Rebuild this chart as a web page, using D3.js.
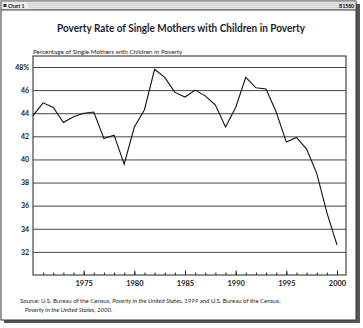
<!DOCTYPE html>
<html>
<head>
<meta charset="utf-8">
<script src="https://cdn.jsdelivr.net/npm/d3@7"></script>
<style>
  body { margin: 0; background: #fff; }
  svg { display: block; font-family: Lato, "Open Sans", sans-serif; }
</style>
</head>
<body>
<div id="chart"></div>
<script>
// poverty rate, single mothers with children, 1970-2000
const years = d3.range(1970, 2001);
const rates = [43.8, 44.9, 44.5, 43.2, 43.7, 44.0, 44.1, 41.8, 42.1, 39.6,
               42.8, 44.3, 47.8, 47.1, 45.8, 45.4, 46.0, 45.5, 44.7, 42.8,
               44.5, 47.1, 46.2, 46.1, 44.1, 41.5, 41.9, 40.9, 38.8, 35.4,
               32.6];
const yTicks = [32, 34, 36, 38, 40, 42, 44, 46, 48];
const xTicks = [1975, 1980, 1985, 1990, 1995, 2000];

const data = years.map((yr, i) => ({year: yr, rate: rates[i]}));

const w = 363, h = 328;
const plot = {left: 33, right: 346, top: 56, bottom: 275};

const svg = d3.select("#chart").append("svg")
    .attr("width", w)
    .attr("height", h);

// outer frame with shadow
svg.append("rect").attr("x", 4).attr("y", 4).attr("width", 356).attr("height", 319).attr("fill", "#555");
svg.append("rect").attr("x", 1).attr("y", 1).attr("width", 355).attr("height", 319)
    .attr("fill", "#fff").attr("stroke", "#333").attr("stroke-width", 1);

// title bar
const bar = svg.append("g");
bar.append("rect").attr("x", 1.5).attr("y", 1.5).attr("width", 354).attr("height", 8)
    .attr("fill", "#e4e4e4").attr("stroke", "#999").attr("stroke-width", 0.5);
[3.5, 5.5, 7.5].forEach(yy => {
  bar.append("line").attr("x1", 2).attr("x2", 355).attr("y1", yy).attr("y2", yy)
      .attr("stroke", "#c4c4c4").attr("stroke-width", 0.5);
});
bar.append("rect").attr("x", 3).attr("y", 2.5).attr("width", 25).attr("height", 6).attr("fill", "#eee");
bar.append("rect").attr("x", 3.5).attr("y", 4).attr("width", 3).attr("height", 3).attr("fill", "#334");
bar.append("text").attr("x", 8).attr("y", 7.8).attr("font-size", 5).attr("font-weight", "bold")
    .attr("fill", "#111").text("Chart 1");
bar.append("rect").attr("x", 340).attr("y", 2.5).attr("width", 15).attr("height", 6).attr("fill", "#ddd");
bar.append("text").attr("x", 354).attr("y", 7.8).attr("font-size", 5).attr("font-weight", "bold")
    .attr("text-anchor", "end").attr("fill", "#111").text("B1580");
svg.append("line").attr("x1", 1).attr("x2", 356).attr("y1", 10).attr("y2", 10).attr("stroke", "#444");

// title
svg.append("text")
    .attr("x", 181).attr("y", 32)
    .attr("text-anchor", "middle")
    .attr("font-size", 10.5).attr("font-weight", "bold")
    .attr("textLength", 248).attr("lengthAdjust", "spacingAndGlyphs")
    .attr("fill", "#1c1c30")
    .text("Poverty Rate of Single Mothers with Children in Poverty");

svg.append("text")
    .attr("x", plot.left).attr("y", 53.5)
    .attr("font-size", 6.3).attr("fill", "#2a1a1a")
    .text("Percentage of Single Mothers with Children in Poverty");

const x = d3.scaleLinear()
    .domain([1970, 2000])
    .range([plot.left, 337]);

const y = d3.scaleLinear()
    .domain([30, 48])
    .range([plot.bottom, 67]);

// plot box
svg.append("rect")
    .attr("x", plot.left).attr("y", plot.top)
    .attr("width", plot.right - plot.left).attr("height", plot.bottom - plot.top)
    .attr("fill", "none").attr("stroke", "#222").attr("stroke-width", 1);

// gridlines + y labels
const yAxis = d3.axisLeft(y)
    .tickValues(yTicks)
    .tickSize(-(plot.right - plot.left))
    .tickFormat(d => d === 48 ? "48%" : d);

svg.append("g")
    .attr("transform", `translate(${plot.left},0)`)
    .call(yAxis)
    .call(g => g.select(".domain").remove())
    .call(g => g.selectAll(".tick line").attr("stroke", "#444").attr("stroke-width", 1))
    .call(g => g.selectAll(".tick text")
        .attr("x", -4)
        .attr("font-size", 7).attr("font-weight", "bold")
        .attr("font-family", "Lato, sans-serif")
        .attr("fill", "#222"));

// x axis ticks, pointing up into the plot
const xMinor = d3.axisBottom(x)
    .tickValues(d3.range(1971, 2001))
    .tickSize(-2.5)
    .tickFormat("");

svg.append("g")
    .attr("transform", `translate(0,${plot.bottom})`)
    .call(xMinor)
    .call(g => g.select(".domain").remove())
    .call(g => g.selectAll(".tick line").attr("stroke", "#222"));

const xAxis = d3.axisBottom(x)
    .tickValues(xTicks)
    .tickSize(-4.5)
    .tickPadding(6)
    .tickFormat(d3.format("d"));

svg.append("g")
    .attr("transform", `translate(0,${plot.bottom})`)
    .call(xAxis)
    .call(g => g.select(".domain").remove())
    .call(g => g.selectAll(".tick line").attr("stroke", "#222"))
    .call(g => g.selectAll(".tick text")
        .attr("font-size", 7.5).attr("font-weight", "bold")
        .attr("font-family", "Lato, sans-serif")
        .attr("fill", "#222"));

// the line
const line = d3.line()
    .x(d => x(d.year))
    .y(d => y(d.rate));

svg.append("path")
    .datum(data)
    .attr("d", line)
    .attr("fill", "none")
    .attr("stroke", "#111")
    .attr("stroke-width", 1.1);

// source note
const src = svg.append("g").attr("font-size", 6).attr("fill", "#2a1a1a");
const t1 = src.append("text").attr("x", 20).attr("y", 303);
t1.append("tspan").text("Source: U.S. Bureau of the Census, ");
t1.append("tspan").attr("font-style", "italic").text("Poverty in the United States, 1999");
t1.append("tspan").text(" and U.S. Bureau of the Census,");
const t2 = src.append("text").attr("x", 25).attr("y", 312);
t2.append("tspan").attr("font-style", "italic").text("Poverty in the United States, 2000");
t2.append("tspan").text(".");
</script>
</body>
</html>
